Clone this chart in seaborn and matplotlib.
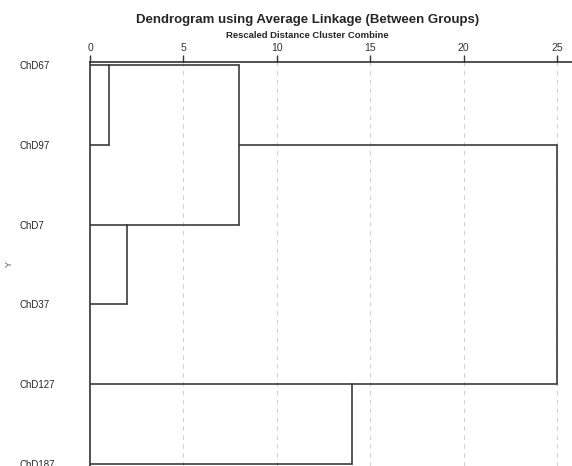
import matplotlib
matplotlib.use("Agg")
import matplotlib.pyplot as plt
import seaborn as sns
import pandas as pd

# leaves in dendrogram order (top to bottom)
leaves = ["ChD67", "ChD97", "ChD7", "ChD37", "ChD127", "ChD187"]
# merges: leaf rows joined and the rescaled distance of each join
merge_a = [0, 1]
merge_b = [2, 3]
merge_c = [4, 5]
dist_a = 1
dist_b = 2
dist_c = 14
dist_ab = 8
dist_all = 25
xticks = [0, 5, 10, 15, 20, 25]

sns.set_style("white")
plt.rcParams["font.family"] = ["Liberation Sans", "DejaVu Sans"]


def build_segments():
    segs = []

    def seg(x0, y0, x1, y1, name):
        segs.append({"seg": name, "x": x0, "y": y0})
        segs.append({"seg": name, "x": x1, "y": y1})

    # leaf arms
    seg(0, merge_a[0], dist_a, merge_a[0], "l0")
    seg(0, merge_a[1], dist_a, merge_a[1], "l1")
    seg(0, merge_b[0], dist_b, merge_b[0], "l2")
    seg(0, merge_b[1], dist_b, merge_b[1], "l3")
    seg(0, merge_c[0], dist_c, merge_c[0], "l4")
    seg(0, merge_c[1], dist_c, merge_c[1], "l5")
    # first joins
    seg(dist_a, merge_a[0], dist_a, merge_a[1], "va")
    seg(dist_b, merge_b[0], dist_b, merge_b[1], "vb")
    seg(dist_c, merge_c[0], dist_c, merge_c[1], "vc")
    # clusters a, b carried to their join
    ya, yb = merge_a[0], merge_b[0]
    seg(dist_a, ya, dist_ab, ya, "ha")
    seg(dist_b, yb, dist_ab, yb, "hb")
    seg(dist_ab, ya, dist_ab, yb, "vab")
    # final join
    yab = merge_a[1]
    yc = merge_c[0]
    seg(dist_ab, yab, dist_all, yab, "hab")
    seg(dist_c, yc, dist_all, yc, "hc")
    seg(dist_all, yab, dist_all, yc, "vall")
    return pd.DataFrame(segs)


df = build_segments()

fig = plt.figure(figsize=(5.72, 4.66), dpi=100)
ax = fig.add_axes([90 / 572, 0, 482 / 572, 404 / 466])

sns.lineplot(data=df, x="x", y="y", units="seg", estimator=None, sort=False,
             color="#3c3c3c", linewidth=1.2, ax=ax)

ax.set_xlim(0, 482 / 18.68)
ax.set_ylim(5 + 2 / 79.8, -3 / 79.8)
ax.xaxis.tick_top()
ax.set_xticks(xticks)
ax.tick_params(axis="x", direction="out", length=5, width=1, labelsize=7.5,
               pad=1.5, colors="#333333")
ax.set_xlabel("")

ax.set_yticks(range(len(leaves)), leaves)
ax.tick_params(axis="y", length=0, labelsize=7, pad=70 * 0.72)
for lab in ax.get_yticklabels():
    lab.set_ha("left")
ax.set_ylabel("Y", fontsize=6.5, color="#555555")
ax.yaxis.set_label_coords(-76 / 482, 0.5)

for x in xticks[1:]:
    ax.axvline(x, color="#d0d0d0", linestyle=(0, (4, 4)), linewidth=0.8, zorder=0)

for side in ["right", "bottom"]:
    ax.spines[side].set_visible(False)
ax.spines["top"].set_color("#333333")
ax.spines["top"].set_linewidth(1.2)
ax.spines["left"].set_color("#333333")
ax.spines["left"].set_linewidth(1.2)

fig.text(308 / 572, 1 - 20 / 466, "Dendrogram using Average Linkage (Between Groups)",
         ha="center", va="center", fontsize=9.5, fontweight="bold")
fig.text(307 / 572, 1 - 36 / 466, "Rescaled Distance Cluster Combine",
         ha="center", va="center", fontsize=6.8, fontweight="bold")

fig.savefig("out.png", dpi=100)
